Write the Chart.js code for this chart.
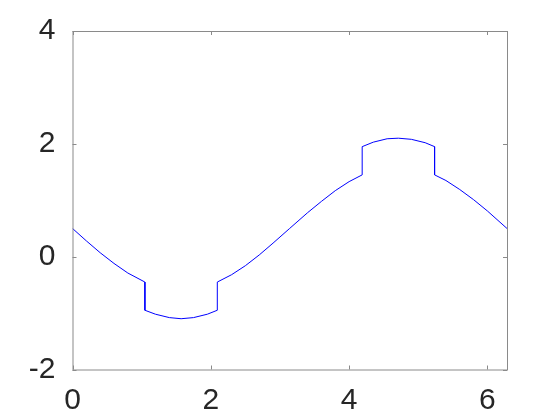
<!DOCTYPE html>
<html>
<head>
<meta charset="utf-8">
<script src="https://cdn.jsdelivr.net/npm/chart.js@4"></script>
<style>
  html, body { margin: 0; padding: 0; background: #fff; }
  canvas { display: block; }
</style>
</head>
<body>
<canvas id="chart" width="560" height="420"></canvas>
<script>
// ── Data ────────────────────────────────────────────────────────────────────
const xs = [0, 0.2, 0.4, 0.6, 0.8, 1.047,
            1.047, 1.2, 1.4, 1.571, 1.75, 1.95, 2.094,
            2.094, 2.3, 2.5, 2.7, 2.9, 3.14, 3.4, 3.6, 3.8, 4.0, 4.189,
            4.189, 4.35, 4.55, 4.712, 4.9, 5.1, 5.236,
            5.236, 5.4, 5.6, 5.8, 6.0, 6.283];
const ys = [0.50, 0.28, 0.07, -0.12, -0.29, -0.45,
            -0.95, -1.02, -1.08, -1.10, -1.08, -1.02, -0.95,
            -0.45, -0.32, -0.16, 0.03, 0.24, 0.50, 0.78, 0.98, 1.17, 1.33, 1.45,
            1.95, 2.03, 2.09, 2.10, 2.08, 2.02, 1.95,
            1.45, 1.35, 1.19, 1.01, 0.81, 0.50];
const xTicks = [0, 2, 4, 6];
const yTicks = [-2, 0, 2, 4];
const xMin = 0, xMax = 6.2832;
const yMin = -2, yMax = 4;

const AXIS = '#8a8a8a';
const TEXT = '#262626';
const FONT = { family: '"Liberation Sans", Arial, sans-serif', size: 30 };

// ── Box + inward ticks (MATLAB style) ───────────────────────────────────────
const boxPlugin = {
  id: 'box',
  afterDraw(chart) {
    const { ctx, chartArea: a, scales: { x, y } } = chart;
    ctx.save();
    ctx.strokeStyle = AXIS;
    ctx.lineWidth = 1;
    ctx.strokeRect(a.left + 0.5, a.top + 0.5, a.right - a.left, a.bottom - a.top);
    ctx.beginPath();
    const len = 4;
    xTicks.forEach(v => {
      const px = Math.round(x.getPixelForValue(v)) + 0.5;
      ctx.moveTo(px, a.bottom); ctx.lineTo(px, a.bottom - len);
      ctx.moveTo(px, a.top); ctx.lineTo(px, a.top + len);
    });
    yTicks.forEach(v => {
      const py = Math.round(y.getPixelForValue(v)) + 0.5;
      ctx.moveTo(a.left, py); ctx.lineTo(a.left + len, py);
      ctx.moveTo(a.right, py); ctx.lineTo(a.right - len, py);
    });
    ctx.stroke();
    ctx.restore();
  }
};

new Chart(document.getElementById('chart'), {
  type: 'line',
  data: {
    datasets: [{
      data: xs.map((x, i) => ({ x, y: ys[i] })),
      borderColor: '#0000ff',
      borderWidth: 1,
      pointRadius: 0,
      tension: 0,
      fill: false,
    }]
  },
  options: {
    responsive: false,
    animation: false,
    layout: { padding: { top: 31, right: 53, left: 0, bottom: 0 } },
    plugins: { legend: { display: false }, tooltip: { enabled: false } },
    scales: {
      x: {
        type: 'linear',
        min: xMin, max: xMax,
        afterBuildTicks: s => { s.ticks = xTicks.map(v => ({ value: v })); },
        afterFit: s => { s.height = 50.5; },
        grid: { display: false },
        border: { display: false },
        ticks: { color: TEXT, font: FONT, padding: 5, maxRotation: 0 },
      },
      y: {
        type: 'linear',
        min: yMin, max: yMax,
        afterBuildTicks: s => { s.ticks = yTicks.map(v => ({ value: v })); },
        afterFit: s => { s.width = 72.5; },
        grid: { display: false },
        border: { display: false },
        ticks: { color: TEXT, font: FONT, padding: 9 },
      }
    }
  },
  plugins: [boxPlugin]
});
</script>
</body>
</html>
